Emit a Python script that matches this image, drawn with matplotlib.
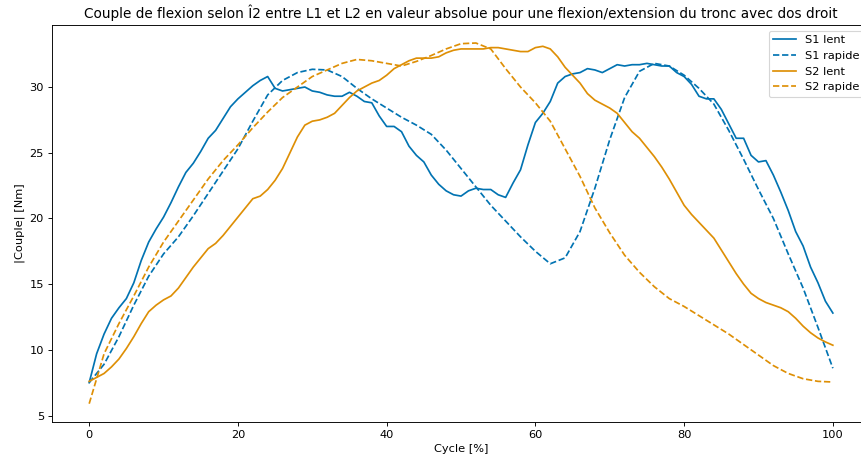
import numpy as np
import matplotlib
matplotlib.use("Agg")
import matplotlib.pyplot as plt

# cycle positions (%)
cycle_lent = np.arange(0, 101, 1)
cycle_rapide = np.arange(0, 101, 2)

s1_lent = [
    7.5, 9.7, 11.2, 12.4, 13.2, 13.9, 15.1, 16.8, 18.2, 19.2,
    20.1, 21.2, 22.4, 23.5, 24.2, 25.1, 26.1, 26.7, 27.6, 28.5,
    29.1, 29.6, 30.1, 30.5, 30.8, 29.9, 29.7, 29.8, 29.9, 30.0,
    29.7, 29.6, 29.4, 29.3, 29.3, 29.6, 29.3, 28.9, 28.8, 27.8,
    27.0, 27.0, 26.6, 25.5, 24.8, 24.3, 23.3, 22.6, 22.1, 21.8,
    21.7, 22.1, 22.3, 22.2, 22.2, 21.8, 21.6, 22.7, 23.7, 25.6,
    27.3, 28.0, 28.9, 30.3, 30.8, 31.0, 31.1, 31.4, 31.3, 31.1,
    31.4, 31.7, 31.6, 31.7, 31.7, 31.8, 31.7, 31.6, 31.6, 31.1,
    30.8, 30.2, 29.3, 29.1, 29.1, 28.3, 27.2, 26.1, 26.1, 24.8,
    24.3, 24.4, 23.3, 22.0, 20.6, 19.0, 17.9, 16.3, 15.1, 13.7,
    12.8,
]

s2_lent = [
    7.6, 7.9, 8.2, 8.7, 9.3, 10.1, 11.0, 12.0, 12.9, 13.4,
    13.8, 14.1, 14.7, 15.5, 16.3, 17.0, 17.7, 18.1, 18.7, 19.4,
    20.1, 20.8, 21.5, 21.7, 22.2, 22.9, 23.8, 25.0, 26.2, 27.1,
    27.4, 27.5, 27.7, 28.0, 28.6, 29.2, 29.7, 30.0, 30.3, 30.5,
    30.9, 31.4, 31.7, 32.0, 32.2, 32.2, 32.2, 32.3, 32.6, 32.8,
    32.9, 32.9, 32.9, 32.9, 33.0, 33.0, 32.9, 32.8, 32.7, 32.7,
    33.0, 33.1, 32.9, 32.3, 31.5, 30.9, 30.3, 29.5, 29.0, 28.7,
    28.4, 28.0, 27.3, 26.6, 26.1, 25.4, 24.7, 23.9, 23.0, 22.0,
    21.0, 20.3, 19.7, 19.1, 18.5, 17.6, 16.7, 15.8, 15.0, 14.3,
    13.9, 13.6, 13.4, 13.2, 12.9, 12.4, 11.8, 11.3, 10.9, 10.6,
    10.35,
]

s1_rapide = [
    7.5, 8.9, 11.0, 13.4, 15.6, 17.3, 18.6, 20.2, 21.9, 23.6,
    25.3, 27.4, 29.4, 30.5, 31.1, 31.35, 31.3, 30.8, 29.9, 29.1,
    28.4, 27.7, 27.1, 26.4, 25.2, 23.8, 22.4, 21.0, 19.8, 18.6,
    17.5, 16.55, 17.0, 19.0, 22.3, 26.0, 29.2, 31.2, 31.8, 31.6,
    30.9, 29.9, 28.7, 26.7, 24.5, 22.2, 20.0, 17.3, 14.7, 11.7,
    8.6,
]

s2_rapide = [
    5.9, 9.7, 12.0, 14.1, 16.3, 18.2, 19.8, 21.4, 23.0, 24.4,
    25.6, 26.9, 28.1, 29.2, 30.0, 30.8, 31.3, 31.8, 32.1, 32.0,
    31.8, 31.6, 31.95, 32.4, 32.9, 33.3, 33.35, 32.9, 31.4, 30.0,
    28.8, 27.4, 25.3, 23.2, 20.8, 18.9, 17.2, 15.9, 14.8, 13.9,
    13.3, 12.6, 11.9, 11.2, 10.4, 9.6, 8.8, 8.2, 7.8, 7.6,
    7.55,
]

blue = "#0173b2"
orange = "#de8f05"

dpi = 82
fig = plt.figure(figsize=(861 / dpi, 461 / dpi), dpi=dpi)
ax = fig.add_axes([0.0604, 0.0852, 0.9501, 0.8606])

ax.plot(cycle_lent, s1_lent, color=blue, linestyle="-", label="S1 lent")
ax.plot(cycle_rapide, s1_rapide, color=blue, linestyle="--", label="S1 rapide")
ax.plot(cycle_lent, s2_lent, color=orange, linestyle="-", label="S2 lent")
ax.plot(cycle_rapide, s2_rapide, color=orange, linestyle="--", label="S2 rapide")

ax.set_title("Couple de flexion selon Î2 entre L1 et L2 en valeur absolue pour une flexion/extension du tronc avec dos droit")
ax.set_xlabel("Cycle [%]")
ax.set_ylabel("|Couple| [Nm]")
ax.legend(loc="upper right")

fig.savefig("out.png", dpi=dpi)
